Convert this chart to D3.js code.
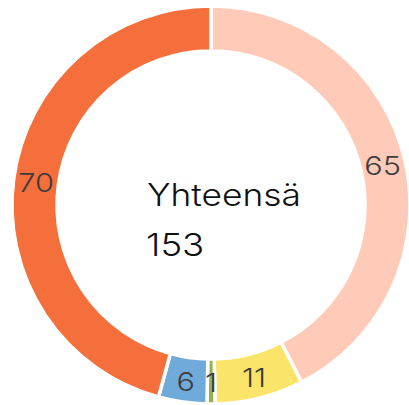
<!DOCTYPE html>
<html lang="fi">
<head>
<meta charset="utf-8">
<script src="https://d3js.org/d3.v7.min.js"></script>
<style>
  body { margin: 0; background: #fff; font-family: Inter, 'Noto Sans', sans-serif; }
  svg { display: block; }
  .slice { stroke: #fff; stroke-width: 3.5; }
  .value { font-size: 26px; fill: #3c3c3c; font-weight: 300; }
  .total { font-size: 31px; fill: #111; font-weight: 300; }
</style>
</head>
<body>
<svg width="409" height="405"></svg>
<script>
  const categories = ['a', 'b', 'c', 'd', 'e'];
  const values = [65, 11, 1, 6, 70];
  const colors = ['#ffcbb8', '#fbe46a', '#8fb24a', '#70aadb', '#f56f3c'];
  const totalLabel = 'Yhteensä';

  const svg = d3.select('svg');
  const cx = 211, cy = 205;
  const outer = 199, inner = 154;
  const stretch = 1.18;  // the original face is wider than Inter

  const g = svg.append('g').attr('transform', `translate(${cx}, ${cy})`);

  const pie = d3.pie().sort(null).value((d, i) => values[i]);
  const arc = d3.arc().innerRadius(inner).outerRadius(outer);

  const arcs = pie(categories);

  g.selectAll('path')
    .data(arcs)
    .enter()
    .append('path')
    .attr('class', 'slice')
    .attr('d', arc)
    .attr('fill', (d, i) => colors[i]);

  // numbers sit on the ring centroid
  g.selectAll('text.value')
    .data(arcs)
    .enter()
    .append('text')
    .attr('class', 'value')
    .attr('transform', d => `translate(${arc.centroid(d)}) scale(${stretch},1)`)
    .attr('text-anchor', 'middle')
    .attr('dy', '0.42em')
    .text((d, i) => values[i]);

  const total = d3.sum(values);
  svg.append('text')
    .attr('class', 'total')
    .attr('transform', `translate(147,206) scale(${stretch - 0.04},1)`)
    .text(totalLabel);
  svg.append('text')
    .attr('class', 'total')
    .attr('transform', `translate(146,256) scale(${stretch},1)`)
    .text(total);
</script>
</body>
</html>
